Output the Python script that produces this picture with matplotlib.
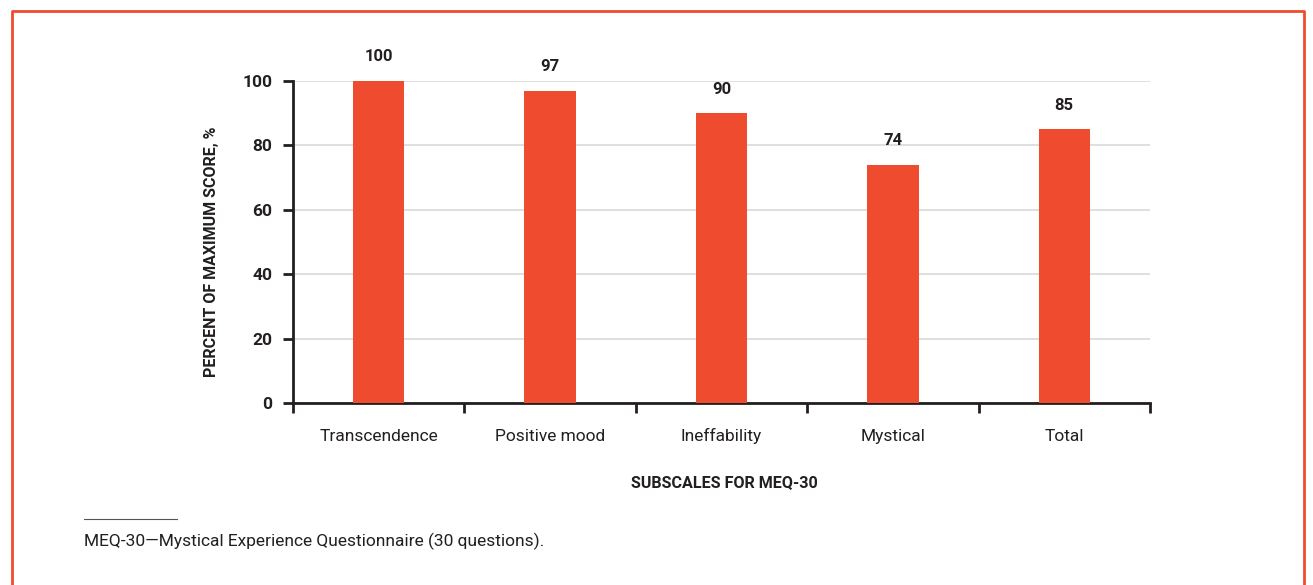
import numpy as np
import matplotlib.pyplot as plt
from matplotlib.lines import Line2D

plt.rcParams['font.family'] = ['Roboto', 'DejaVu Sans']

# MEQ-30 subscale scores, percent of maximum
subscales = ['Transcendence', 'Positive mood', 'Ineffability', 'Mystical', 'Total']
scores = [100, 97, 90, 74, 85]
y_ticks = [0, 20, 40, 60, 80, 100]

bar_color = '#EF4B2F'
text_color = '#231F20'

fig = plt.figure(figsize=(13.13, 5.85), dpi=100)
ax = fig.add_axes([0.2232, 0.3111, 0.6526, 0.5504])

x = np.arange(len(subscales))
bars = ax.bar(x, scores, width=0.3, color=bar_color, zorder=3)

for rect, val in zip(bars, scores):
    ax.annotate(f'{val}', (rect.get_x() + rect.get_width() / 2, val),
                xytext=(0, 12), textcoords='offset points',
                ha='center', va='bottom', fontsize=12, fontweight='bold',
                color=text_color)

ax.set_xlim(-0.5, len(subscales) - 0.5)
ax.set_ylim(0, 100)
ax.set_yticks(y_ticks)
ax.set_yticklabels([str(t) for t in y_ticks], fontsize=12.5, fontweight='bold',
                   color=text_color)
ax.yaxis.grid(True, color='#D9D9D9', linewidth=1.2, zorder=0)
ax.set_axisbelow(True)

# category labels sit between boundary ticks
ax.set_xticks(np.arange(len(subscales) + 1) - 0.5)
ax.set_xticklabels([])
ax.set_xticks(x, minor=True)
ax.set_xticklabels(subscales, minor=True, fontsize=12.5, color=text_color)
for lbl in ax.get_xticklabels(minor=True):
    lbl.set_va('baseline')
ax.tick_params(axis='x', which='minor', length=0, pad=27)
ax.tick_params(axis='x', which='major', length=7, width=2, color=text_color)
ax.tick_params(axis='y', length=7, width=2, color=text_color, pad=8)

for side in ['top', 'right']:
    ax.spines[side].set_visible(False)
for side in ['left', 'bottom']:
    ax.spines[side].set_linewidth(2)
    ax.spines[side].set_color(text_color)

ax.set_ylabel('PERCENT OF MAXIMUM SCORE, %', fontsize=11.5, fontweight='bold',
              color=text_color)
ax.yaxis.set_label_coords(-0.086, 0.47)
fig.text(0.552, 0.176, 'SUBSCALES FOR MEQ-30', ha='center', va='center',
         fontsize=11.6, fontweight='bold', color=text_color)

# footnote
fig.add_artist(Line2D([84 / 1313, 177 / 1313], [1 - 519 / 585, 1 - 519 / 585],
                      color='#555555', linewidth=0.8))
fig.text(84 / 1313, 1 - 541 / 585,
         'MEQ-30\u2014Mystical Experience Questionnaire (30 questions).',
         ha='left', va='center', fontsize=12.5, color=text_color)

# orange frame around the exhibit
fx0, fx1, fy = 12 / 1313, 1304 / 1313, 1 - 11 / 585
fig.add_artist(Line2D([fx0, fx0, fx1, fx1], [0, fy, fy, 0],
                      color=bar_color, linewidth=2))

fig.savefig('out.png', dpi=100)
